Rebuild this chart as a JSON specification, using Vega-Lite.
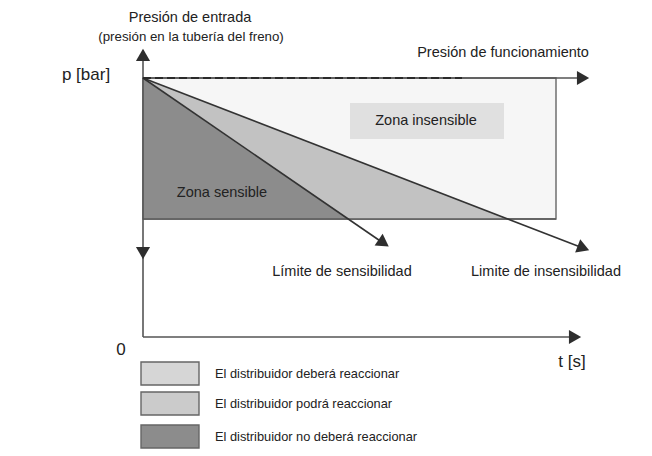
{
  "$schema": "https://vega.github.io/schema/vega-lite/v6.json",
  "width": 652,
  "height": 456,
  "autosize": "none",
  "padding": 0,
  "background": "white",
  "config": {"view": {"stroke": null}, "text": {"font": "Liberation Sans", "color": "#222222"}},
  "datasets": {
    "boxes": [
      {"zone": "insensible", "t": 0, "t2": 413, "p": 118, "p2": 259},
      {"zone": "etiqueta", "t": 207, "t2": 361, "p": 198, "p2": 234},
      {"zone": "leg1", "t": -2, "t2": 56, "p": -25, "p2": -48},
      {"zone": "leg2", "t": -2, "t2": 56, "p": -55, "p2": -78},
      {"zone": "leg3", "t": -2, "t2": 56, "p": -88, "p2": -111}
    ],
    "podra": [
      {"t": 0, "p": 259, "base": 118},
      {"t": 365, "p": 118, "base": 118}
    ],
    "sensible": [
      {"t": 0, "p": 259, "base": 118},
      {"t": 205.6, "p": 118, "base": 118}
    ],
    "lines": [
      {"kind": "axis", "t": 0, "p": 0, "t2": 0, "p2": 278},
      {"kind": "axis", "t": 0, "p": 0, "t2": 430, "p2": 0},
      {"kind": "axis", "t": 0, "p": 259, "t2": 438, "p2": 259},
      {"kind": "limit", "t": 0, "p": 259, "t2": 238, "p2": 95.5},
      {"kind": "limit", "t": 0, "p": 259, "t2": 436, "p2": 90.5}
    ],
    "dashed": [
      {"t": 0, "p": 259, "t2": 319, "p2": 259}
    ],
    "arrows": [
      {"t": 0, "p": 280, "angle": 0},
      {"t": 0, "p": 86, "angle": 180},
      {"t": 438, "p": 259, "angle": 90},
      {"t": 430, "p": 0, "angle": 90},
      {"t": 239, "p": 95, "angle": 124.4},
      {"t": 438.5, "p": 89.6, "angle": 111.1}
    ],
    "labels": [
      {"t": 47, "p": 319, "label": "Presión de entrada"},
      {"t": 360, "p": 284, "label": "Presión de funcionamiento"},
      {"t": 283, "p": 216, "label": "Zona insensible"},
      {"t": 79, "p": 144, "label": "Zona sensible"},
      {"t": 199, "p": 65, "label": "Límite de sensibilidad"},
      {"t": 403, "p": 65, "label": "Limite de insensibilidad"}
    ],
    "paren": [
      {"t": 48, "p": 300, "label": "(presión en la tubería del freno)"}
    ],
    "legend": [
      {"t": 72, "p": -37, "label": "El distribuidor deberá reaccionar"},
      {"t": 72, "p": -67, "label": "El distribuidor podrá reaccionar"},
      {"t": 72, "p": -100, "label": "El distribuidor no deberá reaccionar"}
    ],
    "big": [
      {"t": -57, "p": 262, "label": "p [bar]"},
      {"t": -22, "p": -13, "label": "0"},
      {"t": 429, "p": -25, "label": "t [s]"}
    ]
  },
  "layer": [
    {
      "data": {"name": "boxes"},
      "transform": [{"filter": "datum.zone !== 'etiqueta'"}],
      "mark": {"type": "rect", "stroke": "#666666", "strokeWidth": 1.4},
      "encoding": {
        "x": {"field": "t", "type": "quantitative", "scale": {"domain": [-143, 509], "nice": false, "zero": false}, "axis": null},
        "x2": {"field": "t2"},
        "y": {"field": "p", "type": "quantitative", "scale": {"domain": [-119, 337], "nice": false, "zero": false}, "axis": null},
        "y2": {"field": "p2"},
        "fill": {"field": "zone", "type": "nominal", "legend": null,
          "scale": {"domain": ["insensible", "etiqueta", "leg1", "leg2", "leg3"],
                    "range": ["#f6f6f6", "#e0e0e0", "#d6d6d6", "#cbcbcb", "#8c8c8c"]}}
      }
    },
    {
      "data": {"name": "boxes"},
      "transform": [{"filter": "datum.zone === 'etiqueta'"}],
      "mark": {"type": "rect"},
      "encoding": {
        "x": {"field": "t", "type": "quantitative"},
        "x2": {"field": "t2"},
        "y": {"field": "p", "type": "quantitative"},
        "y2": {"field": "p2"},
        "fill": {"field": "zone", "type": "nominal", "legend": null}
      }
    },
    {
      "data": {"name": "podra"},
      "mark": {"type": "area", "fill": "#c2c2c2"},
      "encoding": {
        "x": {"field": "t", "type": "quantitative"},
        "y": {"field": "p", "type": "quantitative"},
        "y2": {"field": "base"}
      }
    },
    {
      "data": {"name": "sensible"},
      "mark": {"type": "area", "fill": "#8c8c8c"},
      "encoding": {
        "x": {"field": "t", "type": "quantitative"},
        "y": {"field": "p", "type": "quantitative"},
        "y2": {"field": "base"}
      }
    },
    {
      "data": {"name": "boxes"},
      "transform": [{"filter": "datum.zone === 'insensible'"}],
      "mark": {"type": "rule", "stroke": "#5a5a5a", "strokeWidth": 1.4},
      "encoding": {
        "x": {"field": "t", "type": "quantitative"},
        "x2": {"field": "t2"},
        "y": {"field": "p", "type": "quantitative"}
      }
    },
    {
      "data": {"name": "lines"},
      "mark": {"type": "rule", "strokeWidth": 1.6},
      "encoding": {
        "x": {"field": "t", "type": "quantitative"},
        "x2": {"field": "t2"},
        "y": {"field": "p", "type": "quantitative"},
        "y2": {"field": "p2"},
        "stroke": {"field": "kind", "type": "nominal", "legend": null,
          "scale": {"domain": ["axis", "limit"], "range": ["#555555", "#333333"]}}
      }
    },
    {
      "data": {"name": "dashed"},
      "mark": {"type": "rule", "stroke": "#2a2a2a", "strokeWidth": 2, "strokeDash": [8, 4]},
      "encoding": {
        "x": {"field": "t", "type": "quantitative"},
        "x2": {"field": "t2"},
        "y": {"field": "p", "type": "quantitative"},
        "y2": {"field": "p2"}
      }
    },
    {
      "data": {"name": "arrows"},
      "mark": {"type": "point", "shape": "triangle", "filled": true, "fill": "#2e2e2e", "strokeWidth": 0, "size": 200, "opacity": 1},
      "encoding": {
        "x": {"field": "t", "type": "quantitative"},
        "y": {"field": "p", "type": "quantitative"},
        "angle": {"field": "angle", "type": "quantitative", "scale": {"domain": [0, 360], "range": [0, 360]}}
      }
    },
    {
      "data": {"name": "labels"},
      "mark": {"type": "text", "fontSize": 14.5, "align": "center", "baseline": "middle"},
      "encoding": {
        "x": {"field": "t", "type": "quantitative"},
        "y": {"field": "p", "type": "quantitative"},
        "text": {"field": "label"}
      }
    },
    {
      "data": {"name": "paren"},
      "mark": {"type": "text", "fontSize": 13.3, "align": "center", "baseline": "middle"},
      "encoding": {
        "x": {"field": "t", "type": "quantitative"},
        "y": {"field": "p", "type": "quantitative"},
        "text": {"field": "label"}
      }
    },
    {
      "data": {"name": "legend"},
      "mark": {"type": "text", "fontSize": 12.8, "align": "left", "baseline": "middle"},
      "encoding": {
        "x": {"field": "t", "type": "quantitative"},
        "y": {"field": "p", "type": "quantitative"},
        "text": {"field": "label"}
      }
    },
    {
      "data": {"name": "big"},
      "mark": {"type": "text", "fontSize": 17, "align": "center", "baseline": "middle"},
      "encoding": {
        "x": {"field": "t", "type": "quantitative"},
        "y": {"field": "p", "type": "quantitative"},
        "text": {"field": "label"}
      }
    }
  ]
}
